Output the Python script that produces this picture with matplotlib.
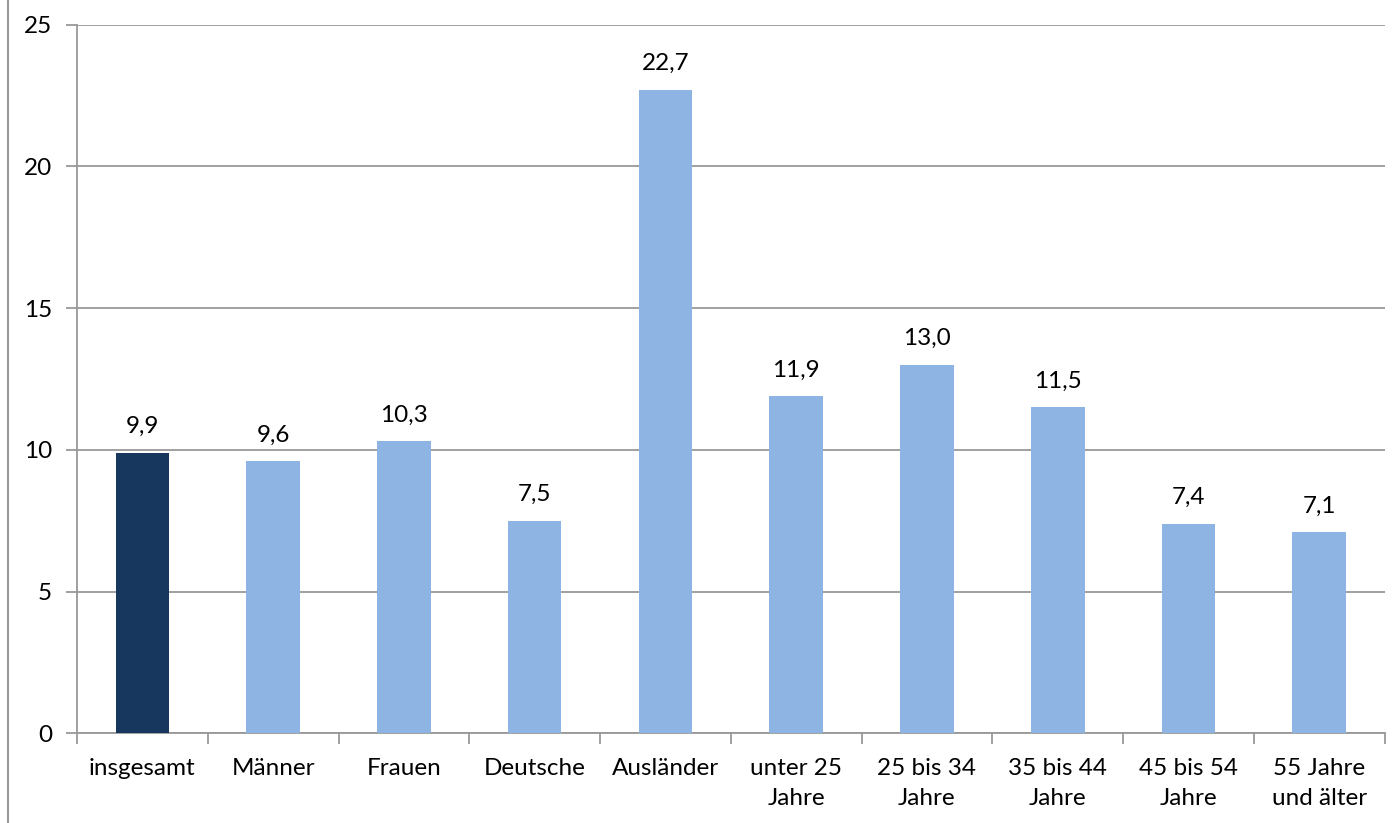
import matplotlib
matplotlib.use("Agg")
import matplotlib.pyplot as plt
from matplotlib.lines import Line2D

categories = ["insgesamt", "Männer", "Frauen", "Deutsche", "Ausländer",
              "unter 25\nJahre", "25 bis 34\nJahre", "35 bis 44\nJahre",
              "45 bis 54\nJahre", "55 Jahre\nund älter"]
values = [9.9, 9.6, 10.3, 7.5, 22.7, 11.9, 13.0, 11.5, 7.4, 7.1]
yticks = [0, 5, 10, 15, 20, 25]

plt.rcParams['font.family'] = ['Lato', 'DejaVu Sans']
FS = 17.5

fig = plt.figure(figsize=(14, 8.23), dpi=100)
ax = fig.add_axes([0.055, 0.109, 0.934, 0.861])

colors = ['#17375E'] + ['#8EB4E3'] * (len(values) - 1)
x = list(range(len(values)))
ax.bar(x, values, width=0.41, color=colors, zorder=3)

for xi, v in zip(x, values):
    ax.text(xi, v + 0.55, f"{v:.1f}".replace('.', ','), ha='center', va='bottom',
            fontsize=FS, color='black')

ax.set_xlim(-0.5, len(values) - 0.5)
ax.set_ylim(0, 25)
ax.set_yticks(yticks)
ax.set_yticklabels([str(t) for t in yticks], fontsize=FS)
ax.yaxis.grid(True, color='#989898', linewidth=1.3, zorder=0)

ax.set_xticks(x)
ax.set_xticklabels(categories, fontsize=FS, linespacing=1.5)
ax.set_xticks([i + 0.5 for i in range(-1, len(values))], minor=True)
ax.tick_params(axis='x', which='major', length=0, pad=18)
ax.tick_params(axis='x', which='minor', length=8, color='#989898', width=1.3)
ax.tick_params(axis='y', length=8, color='#989898', width=1.3, pad=10)

for s in ['top', 'right']:
    ax.spines[s].set_visible(False)
for s in ['left', 'bottom']:
    ax.spines[s].set_color('#989898')
    ax.spines[s].set_linewidth(1.3)

fig.add_artist(Line2D([8 / 1400, 8 / 1400], [0, 1], color='#989898', linewidth=1.5))

fig.savefig("out.png", dpi=100)
